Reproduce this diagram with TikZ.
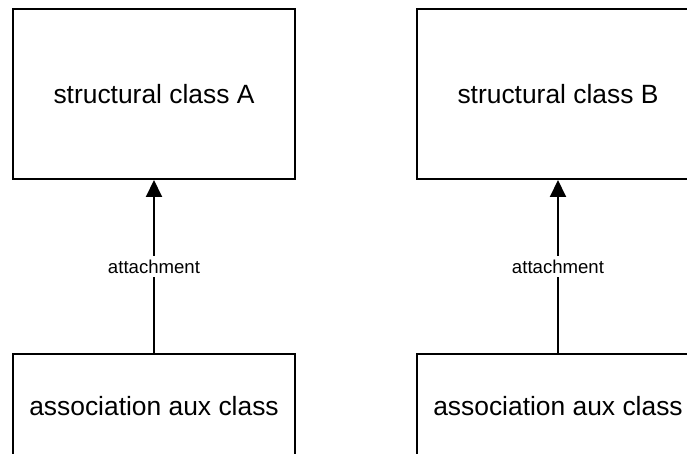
\documentclass[tikz,border=0pt]{standalone}
\usepackage{fontspec}
\setmainfont{Liberation Sans}
\usetikzlibrary{arrows.meta, positioning}

\begin{document}
\begin{tikzpicture}[
  x=0.5pt, y=-0.5pt,
  classbox/.style={rectangle, draw, line width=1pt, minimum width=141pt,
    minimum height=85pt, inner sep=0pt, font=\fontsize{13.2}{16}\selectfont},
  auxbox/.style={classbox, minimum height=52pt},
  attach/.style={draw, line width=1pt, -{Triangle[length=8.5pt, width=8pt]}},
  tag/.style={fill=white, inner sep=2pt, font=\fontsize{9.3}{11}\selectfont},
  node distance=86.5pt and 60pt
]
\useasboundingbox (0,0) rectangle (687,454);
\clip (0,0) rectangle (687,454);

\node[classbox] (structA) at (154,94) {structural class A};
\node[classbox, right=of structA] (structB) {structural class B};
\node[auxbox, below=of structA] (auxA) {association aux class};
\node[auxbox, below=of structB] (auxB) {association aux class};

\draw[attach] (auxA) -- node[tag] {attachment} (structA);
\draw[attach] (auxB) -- node[tag] {attachment} (structB);

\end{tikzpicture}
\end{document}
